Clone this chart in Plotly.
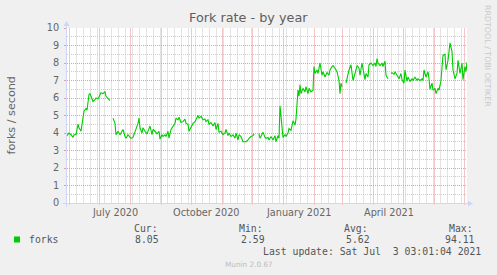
import pandas as pd
import plotly.graph_objects as go

# ---------------- data ----------------
START_DATE = "2020-05-30"
# day offsets from START_DATE; None in FORK_RATE marks a gap (unknown data)
DAY = [0, 2, 4, 6, 7, 9, 11, 12, 14, 16, 17, 19, 20, 22, 23, 24, 26, 28, 29, 31,
       33, 34, 36, 38, 39, 41, 43, 44,
       46, 48, 49, 51, 53, 54, 56, 58, 59, 61, 63, 64, 66, 68, 69, 71, 72, 73, 75,
       76, 78, 80, 82, 83, 85, 86, 88, 90, 92, 93, 95, 96,
       98, 99, 101, 102, 104, 106, 108, 109, 111, 112, 114, 116, 118, 119, 121, 122,
       124, 126, 128, 129, 131, 132, 134, 136, 138, 139, 141, 142, 144, 146, 148, 149,
       151, 152, 154, 156, 158, 159, 161, 162, 164, 166, 168, 169, 171, 172, 174, 176,
       178, 179, 181, 182, 184, 186, 187, 189,
       192, 193, 194, 196,
       198, 199, 201, 202, 204, 206, 208, 209, 211, 212, 213, 215, 216, 218, 219, 221,
       222, 224, 226, 228, 229, 231, 232, 233, 234, 236, 238, 239, 241, 242, 244, 246,
       247, 248, 250, 251, 252, 253, 255, 256, 258, 260, 262, 263, 265, 266, 268, 270,
       272, 273, 274, 275, 277,
       279, 280, 282, 284, 285, 286, 288, 290, 292, 293, 295, 296,
       298, 299, 301, 302, 304, 306, 308, 309, 310, 311, 313, 315, 316, 318, 319, 321, 322,
       324, 325, 327, 328, 330, 332, 334, 335, 337, 338, 340, 341, 343, 345, 346, 348,
       350, 351, 353, 355, 356, 357, 359, 361, 362, 363, 365, 366, 368, 369, 371, 372,
       374, 376, 378, 379, 381, 382, 383, 385, 386, 388, 390, 391, 393, 395, 396, 398,
       399, 400]
FORK_RATE = [3.85, 4.0, 3.9, 3.75, 3.9, 3.9, 4.5, 4.3, 4.1, 4.75, 5.25, 5.4, 5.3, 6.2, 6.25, 6.1, 5.8, 5.9, 6.0, 5.95,
             6.15, 6.3, 6.25, 6.35, 6.1, 6.0, 5.85, None,
             4.85, 4.55, 3.9, 4.1, 3.9, 4.0, 4.2, 3.8, 3.7, 3.9, 3.75, 3.7, 3.75, 4.05, 4.2, 4.55, 4.85, 4.3, 4.0,
             4.3, 4.1, 3.95, 4.25, 4.4, 3.9, 4.2, 4.1, 3.95, 4.1, 3.65, 3.9, 3.8,
             3.9, 3.8, 4.1, 3.7, 4.2, 4.4, 4.55, 4.85, 4.75, 4.9, 4.6, 4.65, 4.8, 4.55, 4.5, 4.1,
             4.35, 4.55, 4.65, 4.8, 5.0, 4.85, 4.95, 4.75, 4.8, 4.65, 4.75, 4.5, 4.6, 4.4, 4.6, 4.2,
             4.55, 4.05, 4.1, 3.9, 4.0, 4.2, 3.85, 4.0, 3.8, 3.9, 3.7, 4.0, 3.6, 3.9, 3.8, 3.5,
             3.5, 3.5, 3.6, 3.7, 3.8, 3.85, 3.95, None,
             3.95, 3.7, 3.8, 4.05,
             3.75, 3.7, 3.75, 3.6, 3.8, 3.6, 3.85, 3.5, 3.85, 3.7, 5.55, 4.35, 3.75, 3.9, 3.8, 4.0,
             4.25, 4.15, 4.7, 4.45, 4.8, 6.45, 6.1, 6.75, 6.25, 6.55, 6.35, 6.65, 6.25, 6.55, 6.35, 6.45,
             7.8, 7.4, 7.6, 7.4, 7.7, 8.0, 7.3, 7.5, 7.2, 7.45, 7.3, 7.6, 7.8, 7.85, 7.7, 7.5,
             7.0, 6.25, 6.85, 6.65, None,
             6.85, 7.1, 7.6, 7.9, 7.45, 7.0, 7.4, 7.85, 7.7, 7.3, 8.0, 7.7,
             7.05, 7.4, 7.2, 7.9, 8.0, 7.85, 8.0, 7.8, 8.25, 8.0, 7.85, 8.0, 7.8, 8.1, 7.3, 7.1, None,
             7.4, 7.45, 7.35, 7.5, 7.3, 7.1, 7.4, 7.05, 6.85, 7.6, 6.95, 7.2, 6.95, 7.1, 7.0, 7.2,
             7.0, 7.1, 7.0, 7.1, 7.0, 7.6, 7.2, 7.5, 7.1, 6.5, 6.85, 6.45, 6.55, 6.25, 6.55, 6.45,
             7.0, 8.45, 8.5, 7.6, 8.15, 8.85, 9.15, 8.65, 7.6, 7.1, 7.4, 8.15, 7.4, 8.0, 7.05, 7.8,
             7.5, 8.05]

X_RANGE = ["2020-05-29 12:00", "2021-07-03 12:00"]
Y_RANGE = [0, 10]
MONTH_LABEL_DATES = ["2020-07-16", "2020-10-16", "2021-01-16", "2021-04-16"]
MONTH_LABELS = ["July 2020", "October 2020", "January 2021", "April 2021"]

TITLE = "Fork rate - by year"
Y_TITLE = "forks / second"
SERIES_NAME = "forks"
STAT_NAMES = ["Cur:", "Min:", "Avg:", "Max:"]
STAT_VALUES = ["8.05", "2.59", "5.62", "94.11"]
LAST_UPDATE = "Last update: Sat Jul\u00a0 3 03:01:04 2021"
WATERMARK = "Munin 2.0.67"
SIDE_TEXT = "RRDTOOL / TOBI OETIKER"

# ---------------- styling ----------------
W, H = 497, 275
L, R, T, B = 67, 30, 28, 72
LINE_COLOR = "#00CC00"
MGRID = "#E6A0A0"
GRID = "#CDCDCD"
MGRID_V = "#F1C6C6"
GRID_V = "#E3E3E3"
AXIS_COL = "#CFD6F8"
FONT_COL = "#666666"
SANS = "DejaVu Sans"
MONO = "DejaVu Sans Mono"
PW, PH = W - L - R, H - T - B


def PX(x):
    return (x - L) / PW


def PY(y):
    return (H - B - y) / PH


dates = pd.Timestamp(START_DATE) + pd.to_timedelta(DAY, unit="D") - pd.Timedelta(hours=12)

fig = go.Figure()
fig.add_trace(go.Scatter(x=dates, y=FORK_RATE, mode="lines", connectgaps=False,
                         line=dict(color=LINE_COLOR, width=1.1), hoverinfo="skip",
                         showlegend=False))

fig.update_layout(
    width=W, height=H, margin=dict(l=L, r=R, t=T, b=B, pad=0),
    paper_bgcolor="#F0F0F0", plot_bgcolor="#FFFFFF", showlegend=False,
    font=dict(family=SANS, size=9.7, color=FONT_COL),
)
fig.update_xaxes(
    type="date", range=X_RANGE, showticklabels=False, showgrid=False, ticks="",
    showline=False, zeroline=False, fixedrange=True,
)
fig.update_yaxes(
    range=Y_RANGE, tick0=0, dtick=1, showgrid=True, gridcolor=MGRID, griddash="1px,1px",
    gridwidth=1, ticks="outside", ticklen=2, tickcolor=MGRID, ticklabelstandoff=3,
    tickfont=dict(family=SANS, size=9.7, color=FONT_COL), zeroline=False, showline=False,
    minor=dict(dtick=0.5, showgrid=True, gridcolor=GRID, griddash="1px,1px", gridwidth=1),
    fixedrange=True,
)

shapes = []
# vertical grid: weekly (minor, grey) and monthly (major, red)
month_starts = pd.date_range("2020-06-01", "2021-07-01", freq="MS")
week_starts = pd.date_range("2020-06-01", "2021-07-01", freq="7D")
for d in week_starts:
    if d in month_starts:
        continue
    shapes.append(dict(type="line", xref="x", yref="paper", x0=d, x1=d, y0=0, y1=1,
                       layer="below", line=dict(color=GRID_V, width=1)))
for d in month_starts:
    shapes.append(dict(type="line", xref="x", yref="paper", x0=d, x1=d, y0=PY(205), y1=1,
                       layer="below", line=dict(color=MGRID_V, width=1)))
# axis lines with arrows
shapes.append(dict(type="line", xref="paper", yref="paper", x0=PX(63), x1=PX(470), y0=PY(203.5), y1=PY(203.5),
                   line=dict(color=AXIS_COL, width=1)))
shapes.append(dict(type="path", xref="paper", yref="paper",
                   path=f"M {PX(468)},{PY(200.5)} L {PX(473)},{PY(203.5)} L {PX(468)},{PY(206.5)} Z",
                   fillcolor=AXIS_COL, line=dict(color=AXIS_COL, width=0)))
shapes.append(dict(type="line", xref="paper", yref="paper", x0=PX(66.5), x1=PX(66.5), y0=PY(207), y1=PY(24),
                   line=dict(color=AXIS_COL, width=1)))
shapes.append(dict(type="path", xref="paper", yref="paper",
                   path=f"M {PX(63.5)},{PY(26)} L {PX(66.5)},{PY(21)} L {PX(69.5)},{PY(26)} Z",
                   fillcolor=AXIS_COL, line=dict(color=AXIS_COL, width=0)))
# legend colour box
shapes.append(dict(type="rect", xref="paper", yref="paper", x0=PX(14), x1=PX(20),
                   y0=PY(242.5), y1=PY(236.5), fillcolor=LINE_COLOR,
                   line=dict(color=LINE_COLOR, width=0)))
fig.update_layout(shapes=shapes)

ann = []
# month labels
for d, lab in zip(MONTH_LABEL_DATES, MONTH_LABELS):
    ann.append(dict(x=d, xref="x", y=PY(212.5), yref="paper", text=lab, showarrow=False,
                    xanchor="center", yanchor="middle",
                    font=dict(family=SANS, size=9.7, color=FONT_COL)))
# title
ann.append(dict(x=PX(248), y=PY(18), xref="paper", yref="paper", text=TITLE, showarrow=False,
                xanchor="center", yanchor="middle", font=dict(family=SANS, size=12.8, color="#5E5E5E")))
# y title
ann.append(dict(x=PX(11), y=PY(115.5), xref="paper", yref="paper", text=Y_TITLE, showarrow=False,
                textangle=-90, xanchor="center", yanchor="middle",
                font=dict(family=SANS, size=11.2, color=FONT_COL)))
# side text
ann.append(dict(x=PX(488), y=PY(56), xref="paper", yref="paper", text=SIDE_TEXT, showarrow=False,
                textangle=90, xanchor="center", yanchor="middle",
                font=dict(family=SANS, size=7.9, color="#C8C8C8")))
# legend
ann.append(dict(x=PX(26.5), y=PY(239.5), xref="paper", yref="paper", text=SERIES_NAME,
                showarrow=False, xanchor="left", yanchor="middle",
                font=dict(family=MONO, size=9.8, color="#555555")))
stat_left = [131.7, 236.7, 342.3, 446.7]
val_right = [160.7, 266.7, 371.7, 476.7]
for nm, v, xl, xr in zip(STAT_NAMES, STAT_VALUES, stat_left, val_right):
    ann.append(dict(x=PX(xl), y=PY(228.5), xref="paper", yref="paper", text=nm, showarrow=False,
                    xanchor="left", yanchor="middle", font=dict(family=MONO, size=9.8, color="#555555")))
    ann.append(dict(x=PX(xr), y=PY(239.5), xref="paper", yref="paper", text=v, showarrow=False,
                    xanchor="right", yanchor="middle", font=dict(family=MONO, size=9.8, color="#555555")))
ann.append(dict(x=PX(482.5), y=PY(251.5), xref="paper", yref="paper", text=LAST_UPDATE,
                showarrow=False, xanchor="right", yanchor="middle",
                font=dict(family=MONO, size=9.8, color="#555555")))
ann.append(dict(x=PX(248.5), y=PY(264), xref="paper", yref="paper", text=WATERMARK,
                showarrow=False, xanchor="center", yanchor="middle",
                font=dict(family=SANS, size=7.3, color="#BDBDBD")))
fig.update_layout(annotations=ann)

fig.write_html("out.html", config={"displayModeBar": False})
